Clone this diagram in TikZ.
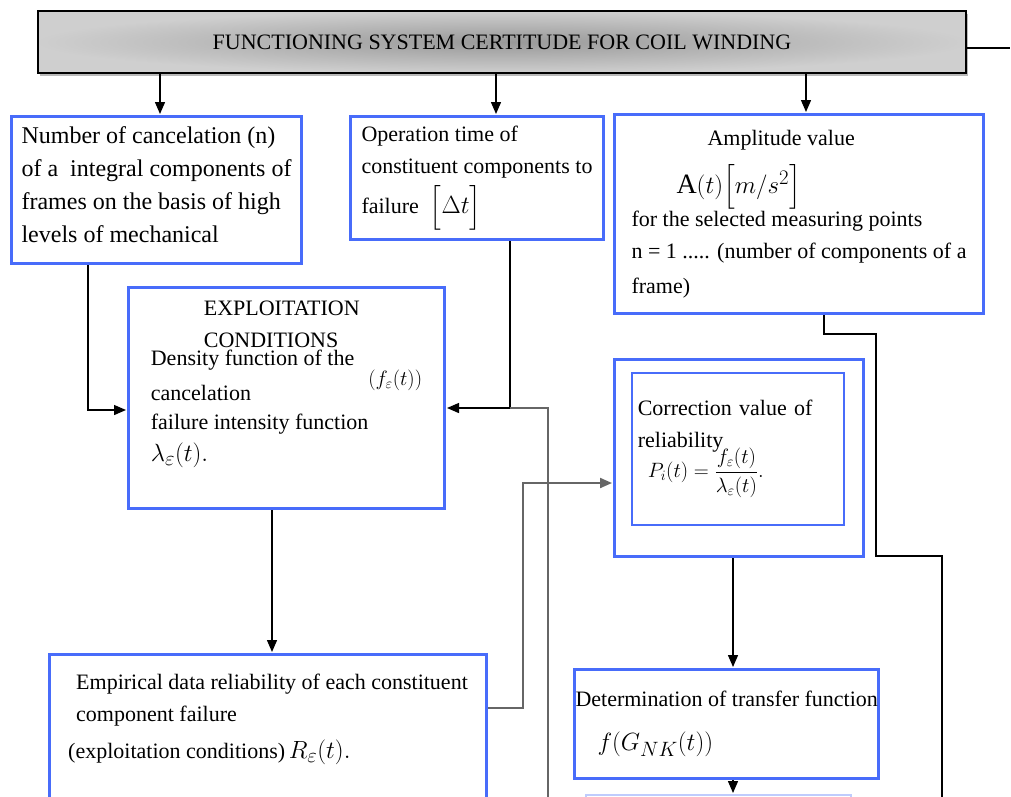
\documentclass[tikz,border=0pt]{standalone}
\usepackage{amsmath}
\usepackage{fontspec}
\setmainfont{Liberation Serif}
\usetikzlibrary{arrows.meta,shadows}

\definecolor{boxblue}{RGB}{72,108,250}
\newcommand{\setfs}[2]{\fontsize{#1}{#2}\selectfont\lineskiplimit=-100pt}

\begin{document}
\begin{tikzpicture}[x=1pt,y=-1pt,shorten >=1pt,>={Triangle[length=12pt,width=10pt]}]
  \tikzstyle{box}=[draw=boxblue,line width=3pt,fill=white,anchor=north west,align=left,font=\setfs{22}{32}]
  \tikzstyle{head}=[draw=black,line width=2pt,anchor=north west,inner color=gray!80,outer color=gray!38,
    drop shadow={shadow xshift=2pt,shadow yshift=-3pt,fill=black!55},font=\setfs{22}{32}]
  \tikzstyle{wire}=[draw=black,line width=1.4pt]
  \tikzstyle{gwire}=[draw=black!60,line width=2pt]
  \useasboundingbox (0,0) rectangle (1011,796);

  \node[head,minimum width=928pt,minimum height=62pt] (hdr) at (37,10)
    {FUNCTIONING SYSTEM CERTITUDE FOR COIL WINDING};
  \node[box,minimum width=290pt,minimum height=147pt,font=\setfs{24}{33}] (b1) at (10,115)
    {Number of cancelation (n)\\ of a\ \ integral components of\\ frames on the basis of high\\
     levels of mechanical\rule[-10pt]{0pt}{0pt}};
  \node[box,minimum width=253pt,minimum height=123pt] (b2) at (349,115)
    {Operation time of\\ constituent components to\\[8pt]
     failure\ \ {\setfs{26}{30}$\Bigl[\Delta t\Bigr]$}\rule[-6pt]{0pt}{0pt}};
  \node[box,minimum width=369pt,minimum height=199pt] (b3) at (613,113)
    {\hspace*{76pt}Amplitude value\\[16pt]
     \hspace*{45pt}{\setfs{28}{30}$\mathrm{A}(t)\Bigl[m/s^2\Bigr]$}\\[1pt]
     for the selected measuring points\\
     n = 1 ..... (number of components of a\\[3pt]
     frame)};
  \node[box,minimum width=316pt,minimum height=221pt] (b4) at (127,286)
    {\hspace*{53pt}EXPLOITATION\\
     \hspace*{53pt}CONDITIONS\\[-14pt]
     Density function of the\hspace{14pt}\smash{\raisebox{-20pt}{\setfs{20}{22}$(f_\varepsilon(t))$}}\\[3pt]
     cancelation\\[-3pt]
     failure intensity function\\
     {\setfs{32}{30}$\lambda_\varepsilon(t).$}\rule[-34pt]{0pt}{0pt}};
  \node[box,minimum width=249pt,minimum height=197pt] (corr) at (613,358) {};
  \node[box,line width=1.6pt,minimum width=212pt,minimum height=152pt,text width=200pt,inner xsep=5pt]
    (corrin) at (631,372)
    {Correction value of\\ reliability\\[-2pt]
     \hspace*{10pt}{\setfs{20}{22}$P_i(t)=\displaystyle\frac{f_\varepsilon(t)}{\lambda_\varepsilon(t)}.$}};
  \node[box,minimum width=437pt,minimum height=144pt] (b6) at (48,653)
    {\hspace*{8pt}Empirical data reliability of each constituent\\
     \hspace*{8pt}component failure\\[5pt]
     (exploitation conditions)\,{\setfs{28}{30}$R_\varepsilon(t).$}\rule[-20pt]{0pt}{0pt}};
  \node[box,minimum width=302pt,minimum height=109pt,inner xsep=1pt] (b7) at (573,668)
    {Determination of transfer function\\[12pt]
     \hspace*{22pt}{\setfs{30}{30}$f(G_{NK}(t))$}};
  \node[box,draw=boxblue!35,line width=2pt,minimum width=265pt,minimum height=40pt] (nxt) at (585,794) {};

  \coordinate (hout) at (1011,48);
  \coordinate (j2) at (510,408);
  \coordinate (gbot) at (548,800);
  \coordinate (rbot) at (942,800);

  \draw[wire] (hdr.east |- hout) -- (hout);
  \draw[wire,->] (hdr.south -| 160,0) -- (b1.north -| 160,0);
  \draw[wire,->] (hdr.south -| 496,0) -- (b2.north -| 496,0);
  \draw[wire,->] (hdr.south -| 806,0) -- (b3.north -| 806,0);
  \draw[wire,->] (b1.south -| 88,0) |- (b4.west |- 0,410);
  \draw[wire,->] (b2.south -| j2) -- (j2) -- (j2 -| b4.east);
  \draw[gwire] (j2) -| (gbot);
  \draw[wire,->] (b4.south -| 272,0) -- (b6.north -| 272,0);
  \draw[gwire,->] (b6.east |- 0,708) -- ++(35,0) |- (corr.west |- 0,483);
  \draw[wire] (b3.south -| 824,0) |- (876,334) |- (942,556) -- (rbot);
  \draw[wire,->] (corr.south -| 733,0) -- (b7.north -| 733,0);
  \draw[wire,->] (b7.south -| 733,0) -- (nxt.north -| 733,0);
\end{tikzpicture}
\end{document}
